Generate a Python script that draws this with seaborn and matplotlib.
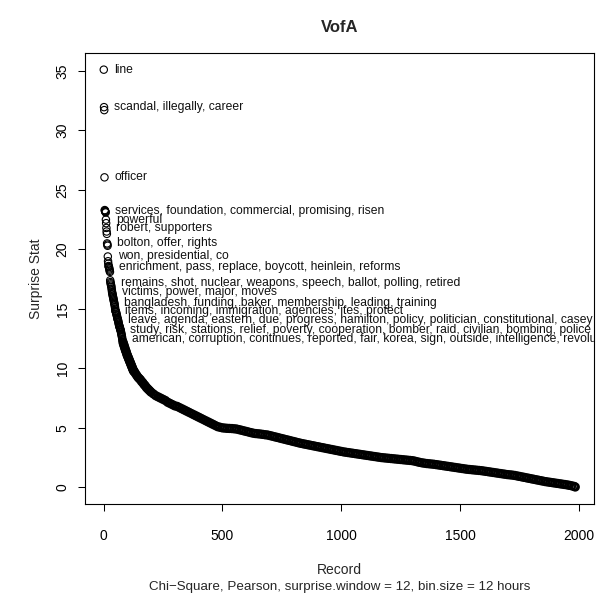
import numpy as np
import pandas as pd
import matplotlib
matplotlib.use("Agg")
import matplotlib.pyplot as plt
import seaborn as sns

# ---------------- data ----------------
# surprise stat for records 1..80, one value per record
head_values = [
    35.1, 31.95, 31.7, 26.05, 23.3, 23.25, 23.2, 23.15, 23.1, 22.5,
    22.2, 21.8, 21.5, 21.3, 20.5, 20.4, 20.3, 19.4, 19.0, 18.8,
    18.6, 18.55, 18.5, 18.4, 18.3, 18.2, 18.1, 17.4, 17.25, 17.15,
    17.05, 16.95, 16.85, 16.7, 16.55, 16.4, 16.3, 16.2, 16.1, 16.0,
    15.9, 15.8, 15.7, 15.6, 15.5, 15.4, 15.3, 15.15, 15.0, 14.85,
    14.8, 14.75, 14.7, 14.6, 14.5, 14.45, 14.35, 14.25, 14.15, 14.1,
    14.05, 13.95, 13.85, 13.75, 13.65, 13.6, 13.5, 13.45, 13.4, 13.3,
    13.25, 13.2, 13.1, 13.0, 12.9, 12.8, 12.7, 12.6, 12.45, 12.35,
]
head_records = list(range(1, 81))

# the dense body of the curve: every 2nd record to 130, every 5th to 200,
# every 10th to 1980, then the last record
body_records = (list(range(82, 131, 2)) + list(range(135, 201, 5))
                + list(range(210, 1981, 10)) + [1985])
body_values = [
    # 82..130 step 2
    12.2, 12.05, 11.95, 11.8, 11.7, 11.55, 11.45, 11.35, 11.2, 11.1,
    11.0, 10.9, 10.8, 10.7, 10.6, 10.5, 10.4, 10.3, 10.2, 10.1,
    10.0, 9.9, 9.8, 9.75, 9.7,
    # 135..200 step 5
    9.55, 9.4, 9.25, 9.15, 9.05, 8.9, 8.8, 8.65, 8.55, 8.4,
    8.3, 8.2, 8.1, 8.0,
    # 210..1980 step 10
    7.85, 7.7, 7.6, 7.5, 7.4, 7.3, 7.15, 7.05,
    6.95, 6.85, 6.8, 6.7, 6.6, 6.5, 6.4, 6.3, 6.2, 6.1,
    6.0, 5.9, 5.8, 5.7, 5.6, 5.5, 5.4, 5.3, 5.2, 5.1,
    5.05, 5.0, 4.98, 4.96, 4.95, 4.94, 4.92, 4.9, 4.85, 4.8,
    4.75, 4.7, 4.65, 4.6, 4.55, 4.52, 4.5, 4.48, 4.45, 4.42,
    4.4, 4.35, 4.3, 4.25, 4.2, 4.15, 4.1, 4.05, 4.0, 3.95,
    3.9, 3.85, 3.8, 3.75, 3.7, 3.66, 3.62, 3.58, 3.54, 3.5,
    3.46, 3.42, 3.38, 3.34, 3.3, 3.26, 3.22, 3.18, 3.14, 3.1,
    3.06, 3.02, 2.98, 2.95, 2.92, 2.89, 2.86, 2.83, 2.8, 2.77,
    2.74, 2.71, 2.68, 2.65, 2.62, 2.59, 2.56, 2.53, 2.5, 2.48,
    2.46, 2.44, 2.42, 2.4, 2.38, 2.36, 2.34, 2.32, 2.3, 2.28,
    2.26, 2.24, 2.2, 2.15, 2.1, 2.06, 2.03, 2.0, 1.98, 1.96,
    1.94, 1.91, 1.88, 1.85, 1.82, 1.79, 1.76, 1.73, 1.7, 1.67,
    1.64, 1.61, 1.58, 1.55, 1.52, 1.5, 1.48, 1.46, 1.44, 1.42,
    1.4, 1.37, 1.34, 1.31, 1.28, 1.25, 1.22, 1.19, 1.16, 1.13,
    1.1, 1.07, 1.05, 1.03, 1.0, 0.96, 0.92, 0.88, 0.84, 0.8,
    0.76, 0.72, 0.68, 0.64, 0.6, 0.56, 0.52, 0.48, 0.45, 0.42,
    0.39, 0.36, 0.33, 0.3, 0.27, 0.24, 0.21, 0.17, 0.13, 0.08,
    # last record
    0.03,
]

label_records = [1, 2, 4, 7, 10, 12, 15, 18, 22, 30, 36, 45, 50, 61, 71, 79]
label_texts = [
    "line",
    "scandal, illegally, career",
    "officer",
    "services, foundation, commercial, promising, risen",
    "powerful",
    "robert, supporters",
    "bolton, offer, rights",
    "won, presidential, co",
    "enrichment, pass, replace, boycott, heinlein, reforms",
    "remains, shot, nuclear, weapons, speech, ballot, polling, retired",
    "victims, power, major, moves",
    "bangladesh, funding, baker, membership, leading, training",
    "items, incoming, immigration, agencies, ites, protect",
    "leave, agenda, eastern, due, progress, hamilton, policy, politician, constitutional, casey",
    "study, risk, stations, relief, poverty, cooperation, bomber, raid, civilian, bombing, police",
    "american, corruption, continues, reported, fair, korea, sign, outside, intelligence, revolution",
]

x_ticks = [0, 500, 1000, 1500, 2000]
y_ticks = [0, 5, 10, 15, 20, 25, 30, 35]

title = "VofA"
x_label = "Record"
y_label = "Surprise Stat"
sub_label = "Chi\u2212Square, Pearson, surprise.window = 12, bin.size = 12 hours"

# ---------------- figure ----------------
sns.set_style("ticks")
plt.rcParams["font.family"] = ["Liberation Sans", "DejaVu Sans"]

W, H = 607, 603
DPI = 100
fig = plt.figure(figsize=(W / DPI, H / DPI), dpi=DPI)

# plot box in pixels
L, R, T, B = 85, 594, 53, 504
ax = fig.add_axes([L / W, 1 - B / H, (R - L) / W, (B - T) / H])

head = pd.DataFrame({"Record": head_records, "Surprise": head_values})
body = pd.DataFrame({"Record": body_records, "Surprise": body_values})

sns.scatterplot(data=head, x="Record", y="Surprise", ax=ax, marker="o",
                s=28, facecolors="none", edgecolor="black", linewidth=0.8,
                legend=False)
sns.scatterplot(data=body, x="Record", y="Surprise", ax=ax, marker="o",
                s=26, facecolors="none", edgecolor="black", linewidth=1.6,
                legend=False)

ax.set_xlim(-78, 2064)
ax.set_ylim(-1.4, 36.5)

lookup = dict(zip(head["Record"], head["Surprise"]))
for rec, txt in zip(label_records, label_texts):
    ax.annotate(txt, (rec, lookup[rec]), xytext=(10, 0),
                textcoords="offset pixels", ha="left", va="center",
                fontsize=8.7, color="#111111", annotation_clip=True,
                clip_on=True)

ax.set_xticks(x_ticks)
ax.set_yticks(y_ticks)
ax.set_xticklabels([str(v) for v in x_ticks])
ax.set_yticklabels([str(v) for v in y_ticks], rotation=90, va="center")
ax.tick_params(axis="both", direction="out", length=5, width=0.75,
               labelsize=10, colors="black", bottom=True, left=True)
ax.tick_params(axis="x", pad=13)
ax.tick_params(axis="y", pad=6)
for sp in ax.spines.values():
    sp.set_visible(True)
    sp.set_color("black")
    sp.set_linewidth(0.8)
ax.set_xlabel("")
ax.set_ylabel("")


def px(x, y):
    return x / W, 1 - y / H


cx = (L + R) / 2
fig.text(*px(cx, 28), title, ha="center", va="center", fontsize=12,
         fontweight="bold")
fig.text(*px(cx, 570), x_label, ha="center", va="center", fontsize=10)
fig.text(*px(cx, 587), sub_label, ha="center", va="center", fontsize=9.6)
fig.text(*px(36, (T + B) / 2), y_label, ha="center", va="center",
         fontsize=10, rotation=90)

fig.savefig("out.png", dpi=DPI)
